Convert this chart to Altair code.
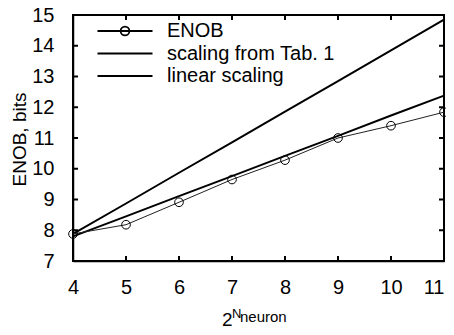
import altair as alt
import pandas as pd

# ---- data ----
x_vals = [4, 5, 6, 7, 8, 9, 10, 11]
enob = [7.88, 8.18, 8.91, 9.65, 10.28, 11.00, 11.40, 11.84]
scaling_tab1 = [7.88, 8.87, 9.87, 10.86, 11.86, 12.85, 13.85, 14.85]
linear_scaling = [7.80, 8.45, 9.11, 9.76, 10.42, 11.07, 11.73, 12.38]

series_names = ["ENOB", "scaling from Tab. 1", "linear scaling"]
x_ticks = [5, 6, 7, 8, 9, 10]
y_ticks = [8, 9, 10, 11, 12, 13, 14]
x_labels = [4, 5, 6, 7, 8, 9, 10, 11]
y_labels = [7, 8, 9, 10, 11, 12, 13, 14, 15]
xtitle_parts = ["2", "N", "neuron"]

W, H = 371, 246
FONT = "Liberation Sans"
INK = "#000000"

rows = []
for name, vals in zip(series_names, [enob, scaling_tab1, linear_scaling]):
    for xv, yv in zip(x_vals, vals):
        rows.append({"x": xv, "y": yv, "series": name})
df = pd.DataFrame(rows)

xs = alt.Scale(domain=[4, 11], nice=False, zero=False)
ys = alt.Scale(domain=[7, 15], nice=False, zero=False)

xaxis = alt.Axis(values=x_labels, format="d", ticks=False, domain=True,
                 domainColor=INK, domainWidth=1.5, grid=False,
                 labelFontSize=20, labelPadding=16, title=None, labelFont=FONT,
                 labelColor="black", labelFlush=False, labelOverlap=False,
                 labelAlign={"condition": {"test": "datum.value == 11", "value": "right"},
                             "value": "center"})
yaxis = alt.Axis(values=y_labels, format="d", ticks=False, domain=True,
                 domainColor=INK, domainWidth=1.5, grid=False,
                 labelFontSize=20, labelPadding=19, labelFont=FONT, labelColor="black",
                 labelFlush=False, labelOverlap=False,
                 title="ENOB, bits", titleFontSize=19, titleFontWeight="normal",
                 titleFont=FONT, titleX=-48, titleY=124, titleAngle=270,
                 titleBaseline="alphabetic", titleAlign="center", titleColor="black")

X = alt.X("x:Q", scale=xs, axis=xaxis)
Y = alt.Y("y:Q", scale=ys, axis=yaxis)

base = alt.Chart(df)

thick = base.transform_filter("datum.series != 'ENOB'").mark_line(
    color="black", strokeWidth=2).encode(x=X, y=Y, detail="series:N")

enob_line = base.transform_filter("datum.series == 'ENOB'").mark_line(
    color="#222222", strokeWidth=1).encode(x=X, y=Y)

enob_pts = base.transform_filter("datum.series == 'ENOB'").mark_point(
    shape="circle", filled=False, size=75, color="black", strokeWidth=1,
    opacity=1, clip=False).encode(x=X, y=Y)

legend_paths = [
    "M-2.75,0L2.75,0M0.44,0A0.44,0.44,0,1,1,-0.44,0A0.44,0.44,0,1,1,0.44,0",
    "M-2.75,0L2.75,0",
    "M-2.75,0L2.75,0",
]
legend_layer = base.transform_filter("datum.series == 'none'").mark_point(
    filled=False, color="black", opacity=1).encode(
    x=X, y=Y,
    shape=alt.Shape("series:N",
                    scale=alt.Scale(domain=series_names, range=legend_paths),
                    legend=alt.Legend(title=None, orient="none", legendX=41, legendY=5,
                                      symbolSize=400, symbolStrokeWidth=1.8,
                                      symbolStrokeColor="black",
                                      labelFontSize=20, labelFont=FONT, labelLimit=400,
                                      labelColor="black", labelOffset=31,
                                      rowPadding=1.5, padding=0)),
)

# frame around the plot area
frame = alt.Chart(pd.DataFrame({"f": [0]})).mark_rect(
    filled=False, stroke=INK, strokeWidth=2, opacity=1).encode(
    x=alt.value(0), x2=alt.value(W), y=alt.value(0), y2=alt.value(H))

# inward ticks on all four sides
xt = pd.DataFrame({"t": x_ticks})
yt = pd.DataFrame({"t": y_ticks})
TX = alt.X("t:Q", scale=xs, axis=xaxis)
TY = alt.Y("t:Q", scale=ys, axis=yaxis)
tick_b = alt.Chart(xt).mark_rule(color=INK, strokeWidth=2, opacity=1).encode(
    x=TX, y=alt.value(H), y2=alt.value(H - 5))
tick_t = alt.Chart(xt).mark_rule(color=INK, strokeWidth=2, opacity=1).encode(
    x=TX, y=alt.value(0), y2=alt.value(5))
tick_l = alt.Chart(yt).mark_rule(color=INK, strokeWidth=2, opacity=1).encode(
    y=TY, x=alt.value(0), x2=alt.value(5))
tick_r = alt.Chart(yt).mark_rule(color=INK, strokeWidth=2, opacity=1).encode(
    y=TY, x=alt.value(W), x2=alt.value(W - 5))

# x-axis title: 2^{N_neuron}
td = pd.DataFrame({"t": xtitle_parts})
t2 = alt.Chart(td).transform_filter("datum.t == '2'").mark_text(
    align="left", baseline="alphabetic", fontSize=19, font=FONT, color="black").encode(
    text="t:N", x=alt.value(149), y=alt.value(311))
tN = alt.Chart(td).transform_filter("datum.t == 'N'").mark_text(
    align="left", baseline="alphabetic", fontSize=13, font=FONT, color="black").encode(
    text="t:N", x=alt.value(159), y=alt.value(303))
tn = alt.Chart(td).transform_filter("datum.t == 'neuron'").mark_text(
    align="left", baseline="alphabetic", fontSize=15, font=FONT, color="black").encode(
    text="t:N", x=alt.value(167), y=alt.value(307))

chart = alt.layer(
    frame, thick, enob_line, enob_pts, legend_layer,
    tick_b, tick_t, tick_l, tick_r, t2, tN, tn,
).properties(
    width=W, height=H,
    autosize=alt.AutoSizeParams(type="none"),
    padding={"left": 65, "top": 7, "right": 2, "bottom": 66},
).configure(
    font=FONT, background="white"
).configure_view(
    stroke="black", strokeWidth=1
)

chart.save("out.html", embed_options={"renderer": "svg", "actions": False})
